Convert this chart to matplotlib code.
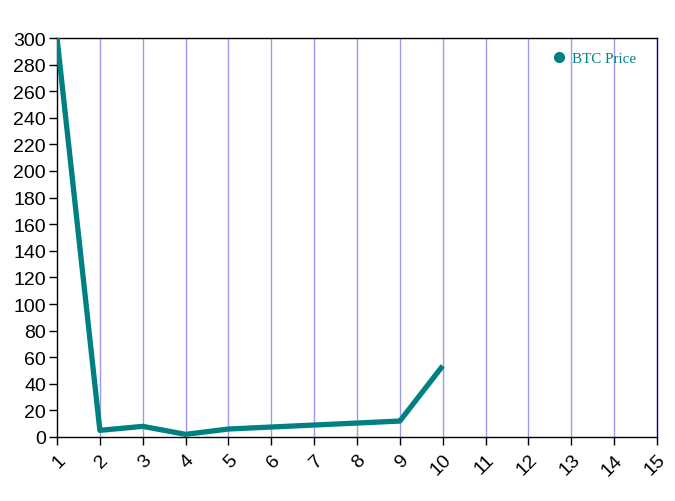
import matplotlib
matplotlib.use("Agg")
import matplotlib.pyplot as plt
from matplotlib.lines import Line2D

x_vals = [1, 2, 3, 4, 5, 6, 7, 8, 9, 10]
btc_price = [300, 5, 8, 2, 6, 7.5, 9, 10.5, 12, 53.5]
x_ticks = list(range(1, 16))
y_ticks = list(range(0, 301, 20))
series_label = "BTC Price"

W, H = 675, 502
fig = plt.figure(figsize=(W / 100, H / 100), dpi=100)
ax = fig.add_axes([57 / W, (H - 438) / H, 600 / W, 399 / H])

teal = "#008080"
for xv in x_ticks[1:-1]:
    ax.axvline(xv, color="#9a9af0", lw=1, zorder=1)

ax.plot(x_vals, btc_price, color=teal, lw=3.8, solid_capstyle="butt", zorder=3, clip_on=True)

ax.set_xlim(1, 15)
ax.set_ylim(0, 300)
ax.set_xticks(x_ticks)
ax.set_yticks(y_ticks)
ax.set_xticklabels([str(v) for v in x_ticks], rotation=45, ha="right", va="top",
                   rotation_mode="anchor", fontsize=14, family="Liberation Sans")
ax.set_yticklabels([str(v) for v in y_ticks], fontsize=14, family="Liberation Sans")
ax.tick_params(axis="both", direction="out", length=6, width=1, colors="black", pad=2)
ax.tick_params(axis="x", pad=4)

for s in ["left", "bottom", "top"]:
    ax.spines[s].set_color("black")
    ax.spines[s].set_linewidth(1)
ax.spines["right"].set_color("#000080")
ax.spines["right"].set_linewidth(1)

handle = Line2D([], [], marker="o", color=teal, linestyle="None", markersize=7)
leg = ax.legend([handle], [series_label], loc="upper right", bbox_to_anchor=(0.988, 1.0),
                frameon=False, handlelength=1.2, handletextpad=0.3,
                prop={"family": "Liberation Serif", "size": 10.8})
for t in leg.get_texts():
    t.set_color(teal)

fig.savefig("out.png", dpi=100)
